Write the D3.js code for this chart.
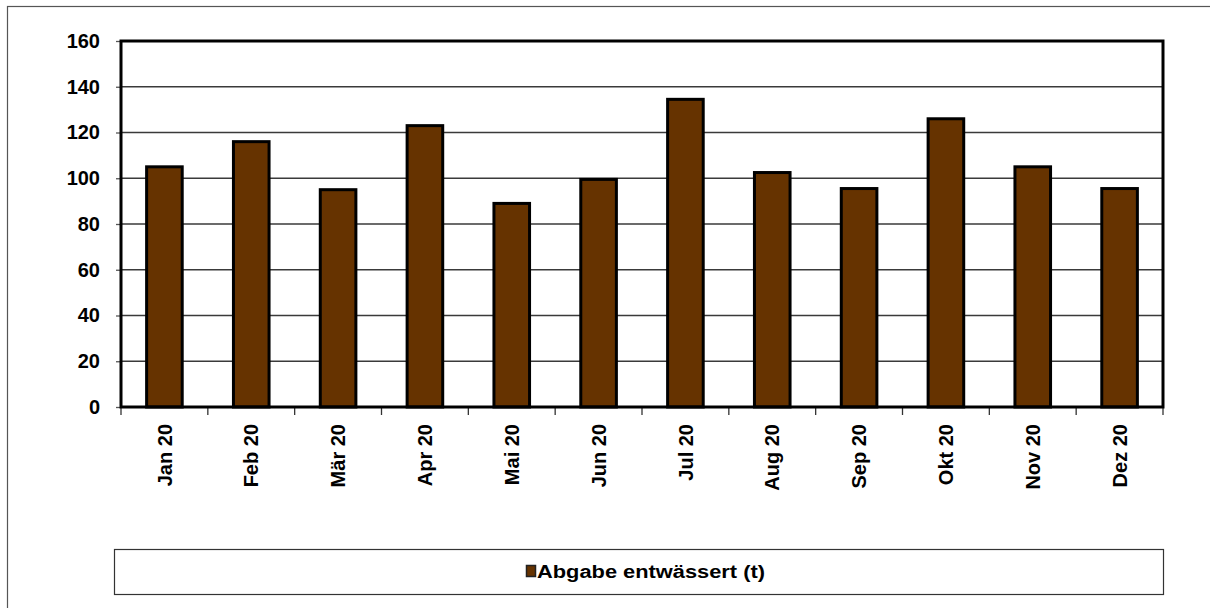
<html>
<meta charset="utf-8">
<body style="margin:0;background:#fff">
<script src="https://d3js.org/d3.v7.min.js"></script>
<div id="my_dataviz"></div>
<script>
    // chart data
    var months = ["Jan 20", "Feb 20", "Mär 20", "Apr 20", "Mai 20", "Jun 20",
                  "Jul 20", "Aug 20", "Sep 20", "Okt 20", "Nov 20", "Dez 20"]
    var abgabe = [105, 116, 95, 123, 89, 99.5, 134.5, 102.5, 95.5, 126, 105, 95.5]
    var yTicks = [0, 20, 40, 60, 80, 100, 120, 140, 160]
    var seriesName = "Abgabe entwässert (t)"

    var W = 1210, H = 608
    var plot = {left: 121, top: 41, right: 1163, bottom: 407}

    var svg = d3.select("#my_dataviz")
      .append("svg")
        .attr("width", W)
        .attr("height", H)
        .style("display", "block")
        .style("font-family", "Arial, 'Liberation Sans', sans-serif")

    // outer chart frame (runs off the right and bottom edge)
    svg.append("rect")
        .attr("x", 7.5).attr("y", 6.5)
        .attr("width", W + 10).attr("height", H + 10)
        .attr("fill", "none")
        .attr("stroke", "#555")
        .attr("stroke-width", 1.2)

    var x = d3.scaleBand()
      .domain(months)
      .range([plot.left, plot.right])
      .paddingInner(0.59)
      .paddingOuter(0.295)

    var xCat = d3.scaleBand()
      .domain(months)
      .range([plot.left, plot.right])

    var y = d3.scaleLinear()
      .domain([0, 160])
      .range([plot.bottom, plot.top])

    // gridlines
    svg.append("g")
      .selectAll("line")
      .data(yTicks.filter(function(d){ return d > 0 && d < 160 }))
      .enter().append("line")
        .attr("x1", plot.left).attr("x2", plot.right)
        .attr("y1", function(d){ return y(d) }).attr("y2", function(d){ return y(d) })
        .attr("stroke", "#3a3a3a")
        .attr("stroke-width", 1.3)

    // Y axis
    var yAxis = svg.append("g")
      .attr("transform", "translate(" + plot.left + ",0)")
      .call(d3.axisLeft(y).tickValues(yTicks).tickSize(5).tickPadding(16))
    yAxis.select(".domain").remove()
    yAxis.selectAll("line").attr("stroke", "#555").attr("stroke-width", 1.3)
    yAxis.selectAll("text")
      .attr("fill", "#000")
      .style("font-size", "20px")
      .style("font-weight", "bold")

    // category boundary ticks under the x axis
    svg.append("g")
      .selectAll("line")
      .data(months.concat(["end"]))
      .enter().append("line")
        .attr("x1", function(d, i){ return i < months.length ? xCat(d) : plot.right })
        .attr("x2", function(d, i){ return i < months.length ? xCat(d) : plot.right })
        .attr("y1", plot.bottom).attr("y2", plot.bottom + 8)
        .attr("stroke", "#333")
        .attr("stroke-width", 1.3)

    // bars
    svg.append("g")
      .selectAll("rect")
      .data(abgabe)
      .enter().append("rect")
        .attr("x", function(d, i){ return x(months[i]) })
        .attr("y", function(d){ return y(d) })
        .attr("width", x.bandwidth())
        .attr("height", function(d){ return y(0) - y(d) })
        .attr("fill", "#663300")
        .attr("stroke", "#000")
        .attr("stroke-width", 3)

    // plot area border
    svg.append("rect")
        .attr("x", plot.left).attr("y", plot.top)
        .attr("width", plot.right - plot.left)
        .attr("height", plot.bottom - plot.top)
        .attr("fill", "none")
        .attr("stroke", "#000")
        .attr("stroke-width", 3)

    // rotated month labels
    svg.append("g")
      .selectAll("text")
      .data(months)
      .enter().append("text")
        .attr("transform", function(d){
            return "translate(" + (xCat(d) + xCat.bandwidth() / 2) + "," + (plot.bottom + 17) + ") rotate(-90)"
        })
        .attr("text-anchor", "end")
        .attr("dy", "0.36em")
        .style("font-size", "20px")
        .style("font-weight", "bold")
        .text(function(d){ return d })

    // legend
    var legend = svg.append("g")
    legend.append("rect")
        .attr("x", 114.5).attr("y", 549.5)
        .attr("width", 1049).attr("height", 45)
        .attr("fill", "#fff")
        .attr("stroke", "#333")
        .attr("stroke-width", 1.2)
    legend.append("rect")
        .attr("x", 526.5).attr("y", 565.5)
        .attr("width", 9).attr("height", 11)
        .attr("fill", "#663300")
        .attr("stroke", "#222")
        .attr("stroke-width", 1.5)
    legend.append("text")
        .attr("x", 537)
        .attr("y", 578)
        .attr("textLength", 228)
        .attr("lengthAdjust", "spacingAndGlyphs")
        .style("font-size", "18px")
        .style("font-weight", "bold")
        .text(seriesName)
</script>
</body>
</html>
